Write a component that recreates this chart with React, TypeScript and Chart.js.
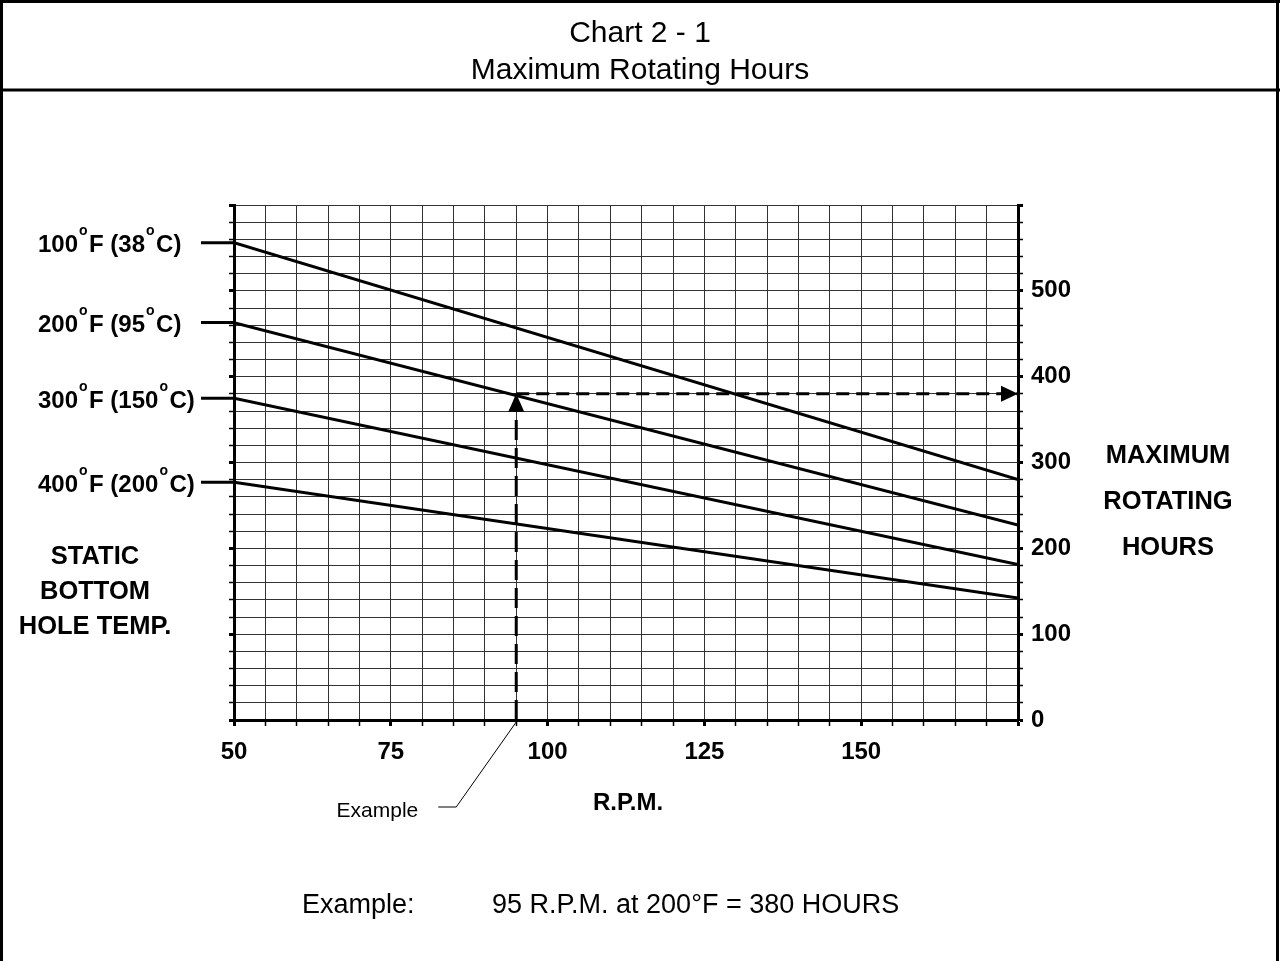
import React, { useEffect, useRef } from 'react';
import { Chart, registerables } from 'chart.js';

Chart.register(...registerables);

// ---------- data ----------
const rpm = [50, 175];
const hours100F = [556, 280];
const hours200F = [463, 227];
const hours300F = [375, 181];
const hours400F = [277, 142];
const tempF = ['100', '200', '300', '400'];
const tempC = ['38', '95', '150', '200'];
const exampleRpm = 95;
const exampleHours = 380;
const xTickLabels = [50, 75, 100, 125, 150];
const yTickLabels = [0, 100, 200, 300, 400, 500];
const chartTitle = ['Chart 2 - 1', 'Maximum Rotating Hours'];
const leftTitle = ['STATIC', 'BOTTOM', 'HOLE TEMP.'];
const rightTitle = ['MAXIMUM', 'ROTATING', 'HOURS'];
const xTitle = 'R.P.M.';
const exampleLabel = 'Example';
const exampleCaption = 'Example:';
const exampleText = '95 R.P.M. at 200°F = 380 HOURS';

const W = 1280;
const H = 961;
const FONT = '"Liberation Sans", Arial, Helvetica, sans-serif';

const seriesHours = [hours100F, hours200F, hours300F, hours400F];

function drawText(ctx: CanvasRenderingContext2D, s: string, x: number, cy: number, size: number, bold: boolean, align: CanvasTextAlign) {
  ctx.font = `${bold ? 'bold ' : ''}${size}px ${FONT}`;
  ctx.textAlign = align;
  ctx.textBaseline = 'alphabetic';
  ctx.fillText(s, x, cy + 0.358 * size);
}

function drawTempLabel(ctx: CanvasRenderingContext2D, f: string, c: string, x: number, cy: number) {
  const size = 24;
  const base = cy + 0.358 * size;
  const parts: (string | null)[] = [f, null, `F (${c}`, null, 'C)'];
  let cx = x;
  ctx.textAlign = 'left';
  ctx.textBaseline = 'alphabetic';
  for (const p of parts) {
    if (p === null) {
      ctx.font = `bold 14px ${FONT}`;
      ctx.fillText('o', cx + 1, base - 0.716 * size);
      cx += 11;
    } else {
      ctx.font = `bold ${size}px ${FONT}`;
      ctx.fillText(p, cx, base);
      cx += ctx.measureText(p).width;
    }
  }
  return cx;
}

const decorPlugin = {
  id: 'decor',
  afterDatasetsDraw(chart: any) {
    const ctx: CanvasRenderingContext2D = chart.ctx;
    const xs = chart.scales.x;
    const ys = chart.scales.y;
    ctx.save();
    ctx.fillStyle = '#000';
    const ax = xs.getPixelForValue(exampleRpm);
    const ay = ys.getPixelForValue(exampleHours);
    ctx.beginPath();
    ctx.moveTo(ax, ay);
    ctx.lineTo(ax - 8, ay + 18);
    ctx.lineTo(ax + 8, ay + 18);
    ctx.closePath();
    ctx.fill();
    const rx = xs.getPixelForValue(rpm[1]);
    ctx.beginPath();
    ctx.moveTo(rx, ay);
    ctx.lineTo(rx - 17, ay - 8);
    ctx.lineTo(rx - 17, ay + 8);
    ctx.closePath();
    ctx.fill();
    ctx.restore();
  },
  afterDraw(chart: any) {
    const ctx: CanvasRenderingContext2D = chart.ctx;
    const xs = chart.scales.x;
    const ys = chart.scales.y;
    const area = chart.chartArea;
    ctx.save();
    ctx.strokeStyle = '#000';
    ctx.fillStyle = '#000';

    // frame
    ctx.lineWidth = 3;
    ctx.beginPath();
    ctx.moveTo(1.5, 0); ctx.lineTo(1.5, H);
    ctx.moveTo(W - 2.5, 0); ctx.lineTo(W - 2.5, H);
    ctx.moveTo(0, 1.5); ctx.lineTo(W, 1.5);
    ctx.moveTo(0, 90); ctx.lineTo(W, 90);
    ctx.stroke();

    // title
    drawText(ctx, chartTitle[0], W / 2, 31, 30, false, 'center');
    drawText(ctx, chartTitle[1], W / 2, 68, 30, false, 'center');

    // temperature labels and leaders
    seriesHours.forEach((hrs, i) => {
      const py = ys.getPixelForValue(hrs[0]);
      const end = drawTempLabel(ctx, tempF[i], tempC[i], 38, py + 1);
      ctx.lineWidth = 3;
      ctx.beginPath();
      ctx.moveTo(Math.max(end + 1, 201), py);
      ctx.lineTo(area.left, py);
      ctx.stroke();
    });

    // axis titles
    const lt = [555, 590, 625];
    leftTitle.forEach((s, i) => drawText(ctx, s, 95, lt[i], 25.5, true, 'center'));
    const rt = [454, 500, 546];
    rightTitle.forEach((s, i) => drawText(ctx, s, 1168, rt[i], 25.5, true, 'center'));
    drawText(ctx, xTitle, 628, 801, 24, true, 'center');

    // example leader
    const tipX = xs.getPixelForValue(exampleRpm);
    const tipY = ys.getPixelForValue(0) + 2;
    const elbowX = tipX - 60;
    const elbowY = tipY + 85;
    ctx.lineWidth = 1;
    ctx.beginPath();
    ctx.moveTo(tipX, tipY);
    ctx.lineTo(elbowX, elbowY);
    ctx.lineTo(elbowX - 18, elbowY);
    ctx.stroke();
    drawText(ctx, exampleLabel, elbowX - 38, elbowY + 2.5, 21, false, 'right');

    // bottom caption
    drawText(ctx, exampleCaption, 302, 903, 27, false, 'left');
    drawText(ctx, exampleText, 492, 903, 27, false, 'left');
    ctx.restore();
  },
};

const lineBase = {
  borderColor: '#000',
  borderWidth: 3,
  pointRadius: 0,
  pointHoverRadius: 0,
  fill: false,
  tension: 0,
};

const tickW = (step: number) => (c: any) => (c.tick && Math.round(c.tick.value) % step === 0 ? 3 : 1.5);

export default function App() {
  const ref = useRef<HTMLCanvasElement>(null);
  useEffect(() => {
    document.body.style.margin = '0';
    const chart = new Chart(ref.current as HTMLCanvasElement, {
      type: 'line',
      data: {
        datasets: [
          ...seriesHours.map((hrs) => ({
            ...lineBase,
            data: rpm.map((r, i) => ({ x: r, y: hrs[i] })),
          })),
          {
            ...lineBase,
            borderDash: [20, 8],
            data: [
              { x: exampleRpm, y: 0 },
              { x: exampleRpm, y: exampleHours },
            ],
          },
          {
            ...lineBase,
            borderDash: [13, 7],
            data: [
              { x: exampleRpm, y: exampleHours },
              { x: rpm[1], y: exampleHours },
            ],
          },
        ],
      } as any,
      options: {
        responsive: false,
        maintainAspectRatio: false,
        devicePixelRatio: 1,
        animation: false,
        events: [],
        layout: { padding: { top: 205, left: 0, right: 0, bottom: 0 } },
        plugins: { legend: { display: false }, tooltip: { enabled: false }, title: { display: false } },
        scales: {
          x: {
            type: 'linear',
            position: 'bottom',
            min: 50,
            max: 175,
            ticks: {
              stepSize: 5,
              autoSkip: false,
              maxTicksLimit: 100,
              maxRotation: 0,
              minRotation: 0,
              padding: 12,
              color: '#000',
              font: { family: FONT, size: 24, weight: 'bold' },
              callback: (v: any) => (xTickLabels.includes(Math.round(v)) ? String(Math.round(v)) : ''),
            },
            grid: { color: '#333', lineWidth: 1, tickLength: 6, tickColor: '#000', tickWidth: tickW(25) },
            border: { color: '#000', width: 3 },
            afterFit: (s: any) => { s.height = H - 720; },
          },
          y: {
            type: 'linear',
            position: 'left',
            min: 0,
            max: 600,
            ticks: {
              stepSize: 20,
              autoSkip: false,
              maxTicksLimit: 100,
              callback: () => '',
            },
            grid: { color: '#333', lineWidth: 1, tickLength: 5, tickColor: '#000', tickWidth: tickW(100) },
            border: { color: '#000', width: 3 },
            afterFit: (s: any) => { s.width = 234; },
          },
          yR: {
            type: 'linear',
            position: 'right',
            min: 0,
            max: 600,
            ticks: {
              stepSize: 20,
              autoSkip: false,
              maxTicksLimit: 100,
              padding: 8,
              color: '#000',
              font: { family: FONT, size: 24, weight: 'bold' },
              callback: (v: any) => (yTickLabels.includes(Math.round(v)) ? String(Math.round(v)) : ''),
            },
            grid: { drawOnChartArea: false, tickLength: 5, tickColor: '#000', tickWidth: tickW(100) },
            border: { color: '#000', width: 3 },
            afterFit: (s: any) => { s.width = W - 1018; },
          },
        },
      } as any,
      plugins: [decorPlugin],
    });
    return () => chart.destroy();
  }, []);
  return (
    <div style={{ position: 'absolute', left: 0, top: 0, width: W, height: H, background: '#fff' }}>
      <canvas ref={ref} width={W} height={H} style={{ display: 'block', width: W, height: H }} />
    </div>
  );
}
